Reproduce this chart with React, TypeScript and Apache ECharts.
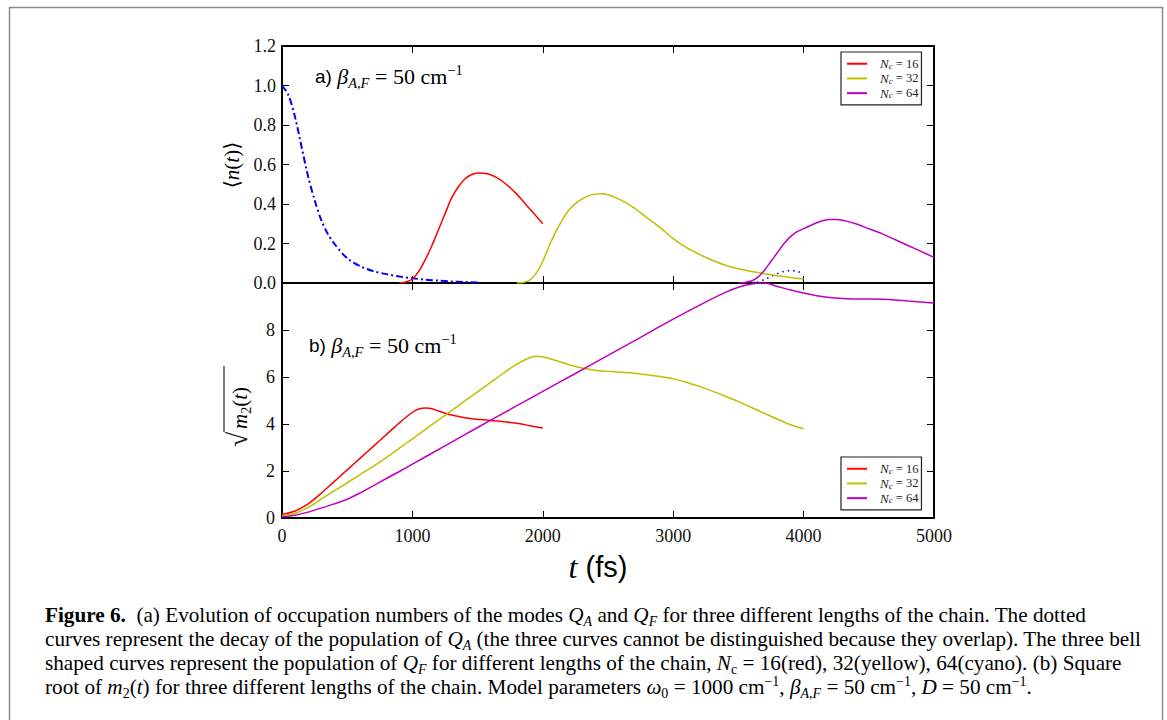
import React, { useEffect, useRef } from "react";
import * as echarts from "echarts";

// ---------- data ----------
// top panel: <n(t)>
const tBlueDecay = [0, 50, 100, 150, 200, 250, 300, 350, 400, 500, 600, 700, 800, 900, 1000, 1100, 1200, 1300, 1400, 1500];
const nBlueDecay = [1.0, 0.95, 0.84, 0.69, 0.54, 0.42, 0.32, 0.25, 0.2, 0.125, 0.085, 0.06, 0.045, 0.033, 0.024, 0.017, 0.012, 0.008, 0.005, 0.003];
const tBlueRevival = [3600, 3650, 3700, 3750, 3800, 3850, 3900, 3950, 4000];
const nBlueRevival = [0.0, 0.005, 0.018, 0.033, 0.048, 0.059, 0.063, 0.059, 0.045];

const tRedTop = [900, 950, 1000, 1050, 1100, 1150, 1200, 1250, 1300, 1350, 1400, 1450, 1500, 1550, 1600, 1650, 1700, 1750, 1800, 1850, 1900, 1950, 2000];
const nRedTop = [0.0, 0.005, 0.02, 0.06, 0.12, 0.19, 0.27, 0.35, 0.43, 0.485, 0.525, 0.548, 0.557, 0.556, 0.548, 0.532, 0.51, 0.482, 0.45, 0.413, 0.375, 0.338, 0.3];

const tYellowTop = [1800, 1850, 1900, 1950, 2000, 2050, 2100, 2150, 2200, 2250, 2300, 2350, 2400, 2450, 2500, 2600, 2700, 2800, 2900, 3000, 3100, 3200, 3300, 3400, 3500, 3600, 3700, 3800, 3900, 4000];
const nYellowTop = [0.0, 0.003, 0.015, 0.05, 0.11, 0.19, 0.26, 0.32, 0.37, 0.402, 0.425, 0.441, 0.45, 0.452, 0.447, 0.42, 0.38, 0.33, 0.28, 0.225, 0.18, 0.145, 0.115, 0.09, 0.072, 0.058, 0.047, 0.037, 0.028, 0.02];

const tMagentaTop = [3500, 3550, 3600, 3650, 3700, 3750, 3800, 3850, 3900, 3950, 4000, 4050, 4100, 4150, 4200, 4250, 4300, 4400, 4500, 4600, 4700, 4800, 4900, 5000];
const nMagentaTop = [0.0, 0.003, 0.01, 0.03, 0.065, 0.11, 0.155, 0.2, 0.235, 0.26, 0.275, 0.29, 0.305, 0.316, 0.322, 0.322, 0.318, 0.3, 0.275, 0.25, 0.22, 0.19, 0.16, 0.13];

// bottom panel: sqrt(m2(t))
const tRedBot = [0, 100, 200, 300, 400, 500, 600, 700, 800, 900, 1000, 1050, 1100, 1150, 1200, 1300, 1400, 1500, 1600, 1700, 1800, 1900, 2000];
const mRedBot = [0.15, 0.3, 0.6, 1.05, 1.55, 2.05, 2.55, 3.05, 3.55, 4.05, 4.5, 4.64, 4.68, 4.65, 4.55, 4.38, 4.27, 4.2, 4.15, 4.1, 4.03, 3.93, 3.83];

const tYellowBot = [0, 100, 200, 300, 400, 500, 600, 700, 800, 900, 1000, 1100, 1200, 1300, 1400, 1500, 1600, 1700, 1800, 1900, 1950, 2000, 2100, 2200, 2300, 2400, 2500, 2600, 2700, 2800, 2900, 3000, 3100, 3200, 3300, 3400, 3500, 3600, 3700, 3800, 3900, 4000];
const mYellowBot = [0.1, 0.2, 0.45, 0.8, 1.15, 1.5, 1.85, 2.2, 2.57, 2.97, 3.37, 3.77, 4.17, 4.57, 4.97, 5.37, 5.77, 6.17, 6.55, 6.82, 6.88, 6.85, 6.7, 6.52, 6.38, 6.29, 6.24, 6.2, 6.16, 6.1, 6.02, 5.92, 5.78, 5.6, 5.4, 5.18, 4.95, 4.7, 4.45, 4.2, 3.97, 3.8];

const tMagentaBot = [0, 100, 200, 300, 400, 500, 600, 700, 800, 900, 1000, 1250, 1500, 1750, 2000, 2250, 2500, 2750, 3000, 3200, 3400, 3500, 3600, 3700, 3800, 3900, 4000, 4100, 4200, 4300, 4400, 4500, 4600, 4700, 4800, 4900, 5000];
const mMagentaBot = [0.05, 0.12, 0.25, 0.42, 0.6, 0.8, 1.07, 1.37, 1.68, 1.98, 2.29, 3.07, 3.85, 4.62, 5.39, 6.15, 6.92, 7.69, 8.46, 9.05, 9.6, 9.82, 9.96, 10.0, 9.85, 9.7, 9.57, 9.46, 9.38, 9.34, 9.32, 9.32, 9.31, 9.28, 9.23, 9.19, 9.15];

const legendNames = ["Nc = 16", "Nc = 32", "Nc = 64"];
const legendNumbers = ["16", "32", "64"];

const RED = "#ff0000";
const YELLOW = "#bfbf00";
const MAGENTA = "#bf00bf";
const BLUE = "#0000ff";

const SERIF = '"Liberation Serif", "DejaVu Serif", serif';
const SANS = '"Liberation Sans", "DejaVu Sans", sans-serif';

const zip = (t: number[], v: number[]) => t.map((x, i) => [x, v[i]]);

function buildOption(): any {
  const axisLine = { show: true, onZero: false, lineStyle: { color: "#000", width: 2 } };
  const tick = { show: true, inside: true, length: 7, lineStyle: { color: "#000", width: 1 } };
  const tickLabel = { color: "#111", fontFamily: SERIF, fontSize: 18 };

  const xBase = { type: "value", min: 0, max: 5000, interval: 1000, splitLine: { show: false }, axisLine, axisTick: tick };
  const xAxis = [
    { ...xBase, gridIndex: 0, position: "bottom", axisLabel: { show: false } },
    { ...xBase, gridIndex: 0, position: "top", axisLabel: { show: false } },
    { ...xBase, gridIndex: 1, position: "bottom", axisLabel: { ...tickLabel, margin: 9, formatter: (v: number) => String(v) } },
    { ...xBase, gridIndex: 1, position: "top", axisLabel: { show: false } },
  ];
  const yTop = { type: "value", min: 0, max: 1.2, interval: 0.2, splitLine: { show: false }, axisLine, axisTick: tick };
  const yBot = { type: "value", min: 0, max: 10, interval: 2, splitLine: { show: false }, axisLine, axisTick: tick };
  const yAxis = [
    { ...yTop, gridIndex: 0, position: "left", axisLabel: { ...tickLabel, margin: 6, formatter: (v: number) => v.toFixed(1) } },
    { ...yTop, gridIndex: 0, position: "right", axisLabel: { show: false } },
    { ...yBot, gridIndex: 1, position: "left", axisLabel: { ...tickLabel, margin: 7, showMaxLabel: false, formatter: (v: number) => (v === 10 ? "" : String(v)) } },
    { ...yBot, gridIndex: 1, position: "right", axisLabel: { show: false } },
  ];

  const line = (name: string, color: string, data: number[][], axis: number, extra: any = {}) => ({
    type: "line",
    name,
    xAxisIndex: axis,
    yAxisIndex: axis,
    data,
    showSymbol: false,
    symbol: "none",
    smooth: 0.3,
    color,
    itemStyle: { color },
    lineStyle: { color, width: 1.5, ...(extra.lineStyle || {}) },
    z: extra.z || 3,
  });

  const series = [
    line("Q_A", BLUE, zip(tBlueDecay, nBlueDecay), 0, { lineStyle: { width: 2, type: [7, 3, 2, 3] } }),
    line("Q_A revival", BLUE, zip(tBlueRevival, nBlueRevival), 0, { lineStyle: { width: 1.6, type: [1.5, 4] } }),
    line(legendNames[0], RED, zip(tRedTop, nRedTop), 0),
    line(legendNames[1], YELLOW, zip(tYellowTop, nYellowTop), 0),
    line(legendNames[2], MAGENTA, zip(tMagentaTop, nMagentaTop), 0),
    line(legendNames[0], RED, zip(tRedBot, mRedBot), 2),
    line(legendNames[1], YELLOW, zip(tYellowBot, mYellowBot), 2),
    line(legendNames[2], MAGENTA, zip(tMagentaBot, mMagentaBot), 2),
  ];

  const legendRich = {
    i: { fontFamily: SERIF, fontStyle: "italic", fontSize: 13, color: "#222" },
    s: { fontFamily: SERIF, fontStyle: "italic", fontSize: 9, color: "#222", verticalAlign: "bottom", lineHeight: 9 },
    r: { fontFamily: SERIF, fontSize: 12.5, color: "#222" },
  };
  const legendBase = {
    orient: "vertical",
    data: legendNames,
    selectedMode: false,
    icon: "rect",
    itemWidth: 20,
    itemHeight: 2,
    itemGap: 1.2,
    padding: [5, 3, 5, 6],
    borderColor: "#222",
    borderWidth: 1.2,
    backgroundColor: "#fff",
    textStyle: { lineHeight: 13.5, padding: [0, 0, 0, 8], rich: legendRich },
    formatter: (name: string) => {
      const idx = legendNames.indexOf(name);
      return "{i|N}{s|c}{r| = " + legendNumbers[idx] + "}";
    },
  };
  const legend = [
    { ...legendBase, left: 841, top: 52 },
    { ...legendBase, left: 841, top: 457 },
  ];

  const annRich = {
    a: { fontFamily: SANS, fontSize: 19, color: "#000", lineHeight: 24 },
    b: { fontFamily: SERIF, fontStyle: "italic", fontSize: 22, color: "#222", lineHeight: 24 },
    sub: { fontFamily: SERIF, fontStyle: "italic", fontSize: 14.5, color: "#222", lineHeight: 8, padding: [13, 0, 0, 0] },
    r: { fontFamily: SERIF, fontSize: 22, color: "#222", lineHeight: 24 },
    sup: { fontFamily: SERIF, fontSize: 14.5, color: "#222", lineHeight: 8, padding: [0, 0, 13, 0] },
  };
  const annText = (label: string) => "{a|" + label + " }{b|β}{sub|A,F}{r| = 50 cm}{sup|−1}";

  const FS = 21.2;
  const capRich: any = {
    f: { fontFamily: SERIF, fontWeight: "bold", fontSize: FS, color: "#111", lineHeight: 24 },
    n: { fontFamily: SERIF, fontSize: FS, color: "#111", lineHeight: 24 },
    i: { fontFamily: SERIF, fontStyle: "italic", fontSize: FS, color: "#111", lineHeight: 24 },
    si: { fontFamily: SERIF, fontStyle: "italic", fontSize: 14, color: "#111", lineHeight: 8, padding: [13, 0, 0, 0] },
    sn: { fontFamily: SERIF, fontSize: 14, color: "#111", lineHeight: 8, padding: [13, 0, 0, 0] },
    sp: { fontFamily: SERIF, fontSize: 14, color: "#111", lineHeight: 8, padding: [0, 0, 12, 0] },
  };
  const capLines = [
    "{f|Figure 6.}{n|  (a) Evolution of occupation numbers of the modes }{i|Q}{si|A}{n| and }{i|Q}{si|F}{n| for three different lengths of the chain. The dotted}",
    "{n|curves represent the decay of the population of }{i|Q}{si|A}{n| (the three curves cannot be distinguished because they overlap). The three bell}",
    "{n|shaped curves represent the population of }{i|Q}{si|F}{n| for different lengths of the chain, }{i|N}{sn|c}{n| = 16(red), 32(yellow), 64(cyano). (b) Square}",
    "{n|root of }{i|m}{sn|2}{n|(}{i|t}{n|) for three different lengths of the chain. Model parameters }{i|ω}{sn|0}{n| = 1000 cm}{sp|−1}{n|, }{i|β}{si|A,F}{n| = 50 cm}{sp|−1}{n|, }{i|D}{n| = 50 cm}{sp|−1}{n|.}",
  ];

  const graphic = [
    {
      type: "rect",
      z: -10,
      shape: { x: 9.5, y: 7.5, width: 1153, height: 730 },
      style: { fill: "none", stroke: "#8c8c8c", lineWidth: 1.5 },
    },
    {
      type: "text",
      x: 315,
      y: 76,
      style: { text: annText("a)"), rich: annRich, align: "left", verticalAlign: "middle", textAlign: "left", textVerticalAlign: "middle" },
    },
    {
      type: "text",
      x: 309,
      y: 345,
      style: { text: annText("b)"), rich: annRich, align: "left", verticalAlign: "middle", textAlign: "left", textVerticalAlign: "middle" },
    },
    // y label top
    {
      type: "text",
      x: 232,
      y: 165,
      rotation: Math.PI / 2,
      style: {
        text: "{p|⟨}{i|n}{p|(}{i|t}{p|)⟩}",
        rich: {
          p: { fontFamily: SERIF, fontSize: 21, color: "#222" },
          i: { fontFamily: SERIF, fontStyle: "italic", fontSize: 21, color: "#222" },
        },
        align: "center",
        verticalAlign: "middle",
        textAlign: "center",
        textVerticalAlign: "middle",
      },
    },
    // y label bottom: sqrt(m2(t))
    {
      type: "group",
      x: 239,
      y: 404,
      rotation: Math.PI / 2,
      children: [
        {
          type: "text",
          x: -43,
          y: -2,
          style: {
            text: "√",
            font: "28px " + SERIF,
            fill: "#222",
            align: "left",
            verticalAlign: "middle",
            textAlign: "left",
            textVerticalAlign: "middle",
          },
        },
        {
          type: "text",
          x: -25,
          y: 1,
          style: {
            text: "{i|m}{s|2}{p|(}{i|t}{p|)}",
            rich: {
              p: { fontFamily: SERIF, fontSize: 21, color: "#222", lineHeight: 22 },
              i: { fontFamily: SERIF, fontStyle: "italic", fontSize: 21, color: "#222", lineHeight: 22 },
              s: { fontFamily: SERIF, fontSize: 14, color: "#222", lineHeight: 8, padding: [12, 0, 0, 0] },
            },
            align: "left",
            verticalAlign: "middle",
            textAlign: "left",
            textVerticalAlign: "middle",
          },
        },
        {
          type: "line",
          shape: { x1: -28, y1: -15, x2: 38, y2: -15 },
          style: { stroke: "#222", lineWidth: 1.2 },
        },
      ],
    },
    // x label
    {
      type: "text",
      x: 598,
      y: 567,
      style: {
        text: "{i|t}{s| (fs)}",
        rich: {
          i: { fontFamily: SERIF, fontStyle: "italic", fontSize: 32, color: "#111" },
          s: { fontFamily: SANS, fontSize: 29, color: "#111" },
        },
        align: "center",
        verticalAlign: "middle",
        textAlign: "center",
        textVerticalAlign: "middle",
      },
    },
    // caption
    ...capLines.map((txt, k) => ({
      type: "text",
      x: 45,
      y: 615 + k * 24,
      style: {
        text: txt,
        rich: capRich,
        align: "left",
        verticalAlign: "middle",
        textAlign: "left",
        textVerticalAlign: "middle",
      },
    })),
  ];

  return {
    animation: false,
    backgroundColor: "#ffffff",
    grid: [
      { left: 282, top: 46, width: 652, height: 237 },
      { left: 282, top: 283, width: 652, height: 235 },
    ],
    xAxis,
    yAxis,
    legend,
    series,
    graphic,
  };
}

export default function App() {
  const ref = useRef<HTMLDivElement | null>(null);
  useEffect(() => {
    if (!ref.current) return;
    const chart = echarts.init(ref.current, null, { renderer: "svg" });
    chart.setOption(buildOption());
    return () => chart.dispose();
  }, []);
  return (
    <div
      ref={ref}
      style={{ position: "fixed", left: 0, top: 0, width: 1167, height: 720, background: "#fff" }}
    />
  );
}
